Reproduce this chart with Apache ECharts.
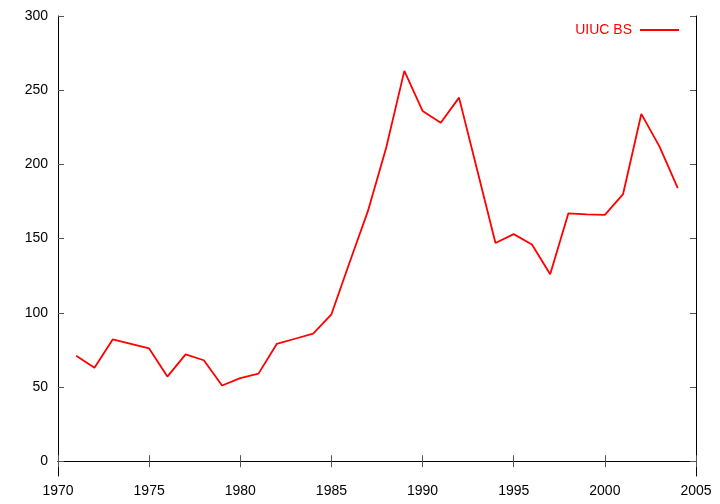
<!DOCTYPE html>
<html>
<head>
<meta charset="utf-8">
<script src="https://cdn.jsdelivr.net/npm/echarts@6/dist/echarts.min.js"></script>
<style>html,body{margin:0;padding:0;background:#fff}#c{width:720px;height:504px}</style>
</head>
<body>
<div id="c"></div>
<script>
const years = [1971,1972,1973,1974,1975,1976,1977,1978,1979,1980,1981,1982,1983,1984,1985,1986,1987,1988,1989,1990,1991,1992,1993,1994,1995,1996,1997,1998,1999,2000,2001,2002,2003,2004];
const uiucBS = [71,63,82,79,76,57,72,68,51,56,59,79,82.5,86,99,134,168.5,211,263,236,228,245,196,147,153,146,126,167,166.3,166,180,234,212,184];
const seriesName = 'UIUC BS';
const yTicks = [0,50,100,150,200,250,300];

const chart = echarts.init(document.getElementById('c'), null, {renderer:'canvas'});
const font = 'Liberation Sans, Arial, Helvetica, sans-serif';
const axisLine = {show:true, lineStyle:{color:'#000', width:1}};
const tick = {show:true, inside:true, length:6, lineStyle:{color:'#555', width:1}};
chart.setOption({
  animation:false,
  backgroundColor:'#fff',
  grid:{left:58, top:16, right:24, bottom:28, containLabel:false},
  legend:{
    data:[{name:seriesName, icon:'rect'}], right:36, top:18, align:'right', itemWidth:39, itemHeight:2, itemGap:0,
    itemStyle:{color:'#ff0000'},
    textStyle:{color:'#ff0000', fontFamily:font, fontSize:14, padding:[0,3,0,0]}
  },
  xAxis:[
    {type:'value', position:'bottom', min:1970, max:2005, interval:5,
     axisLine:axisLine, axisTick:tick, splitLine:{show:false},
     axisLabel:{color:'#000', fontFamily:font, fontSize:14, margin:8, formatter:v=>String(v)}},
    {type:'value', position:'top', min:1970, max:2005, interval:5,
     axisLine:axisLine, axisTick:tick, splitLine:{show:false}, axisLabel:{show:false}}
  ],
  yAxis:[
    {type:'value', position:'left', min:-10, max:300,
     axisLine:axisLine, splitLine:{show:false},
     axisTick:Object.assign({customValues:yTicks}, tick),
     axisLabel:{customValues:yTicks, color:'#000', fontFamily:font, fontSize:14, margin:10, formatter:v=>String(v)}},
    {type:'value', position:'right', min:-10, max:300,
     axisLine:axisLine, splitLine:{show:false},
     axisTick:Object.assign({customValues:yTicks}, tick),
     axisLabel:{show:false, customValues:yTicks}}
  ],
  series:[{
    name:seriesName, type:'line', xAxisIndex:0, yAxisIndex:0,
    data: years.map((y,i)=>[y, uiucBS[i]]),
    symbol:'none', lineStyle:{color:'#ff0000', width:1.8}, itemStyle:{color:'#ff0000'}
  }]
});
</script>
</body>
</html>
